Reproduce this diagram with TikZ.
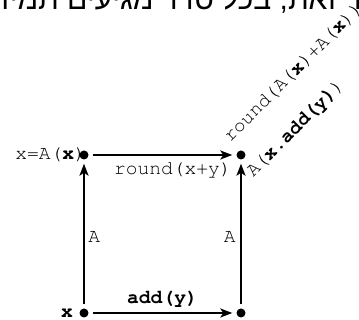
\documentclass[tikz,border=0pt]{standalone}
\usepackage{fontspec}
\setmonofont{TeX Gyre Cursor}
\newfontfamily\hebfont[Script=Hebrew]{Liberation Sans}
\TeXXeTstate=1
\usetikzlibrary{arrows.meta, positioning, calc}

\begin{document}
\begin{tikzpicture}[
        x=0.5pt, y=0.5pt,
        dot/.style={circle, fill=black, inner sep=0pt, minimum size=4.5pt, outer sep=2.1pt},
        lbl/.style={inner sep=1pt, font=\fontsize{9.8}{11}\selectfont\ttfamily},
        arr/.style={-{Stealth[length=6pt, width=4.5pt, inset=1.5pt]}, line width=1pt}
    ]
        \useasboundingbox (0,0) rectangle (359,320);
        \clip (0,0) rectangle (359,320);

        % Caption, cut off at the top
        \node[anchor=base east, inner sep=0pt, font=\fontsize{15}{17}\selectfont\hebfont] (cap) at (362,310) {\beginR ר זאת, בכל סדר מגיעים תמיד לאותו ערך מוסכם\endR};

        % Corners
        \node[dot] (bl) at (84,7) {};
        \node[dot] (tl) at (84,165) {};
        \node[dot] (tr) at (241,165) {};
        \node[dot] (br) at (241,7) {};

        % Arrows
        \draw[arr] (bl) -- (br);
        \draw[arr] (bl) -- (tl);
        \draw[arr] (tl) -- (tr);
        \draw[arr] (br) -- (tr);

        % Labels
        \node[lbl, left=0pt of bl] (xlbl) {\textbf{x}};
        \node[lbl, left=-6.5pt of tl] (xalbl) {x=A(\textbf{x})};
        \node[lbl, anchor=east] (rndlbl) at ($(tr)+(-7,-15)$) {round(x+y)};
        \node[lbl] (addlbl) at ($(bl)!.5!(br)+(0,14)$) {\textbf{add(y)}};
        \node[lbl, anchor=west] (alft) at ($(bl)!.5!(tl)+(2,-3)$) {A};
        \node[lbl, anchor=east] (argt) at ($(br)!.5!(tr)+(-3,-3)$) {A};

        % Rotated results
        \node[lbl, anchor=base west, inner sep=0pt, rotate=45] (sumlbl) at ($(tr)+(-11,12)$) {round(A(\textbf{x})+A(\textbf{x}))};
        \node[lbl, anchor=base west, inner sep=0pt, rotate=45] (maplbl) at ($(tr)+(12,-23)$) {A(\textbf{x.add(y)})};
\end{tikzpicture}
\end{document}
